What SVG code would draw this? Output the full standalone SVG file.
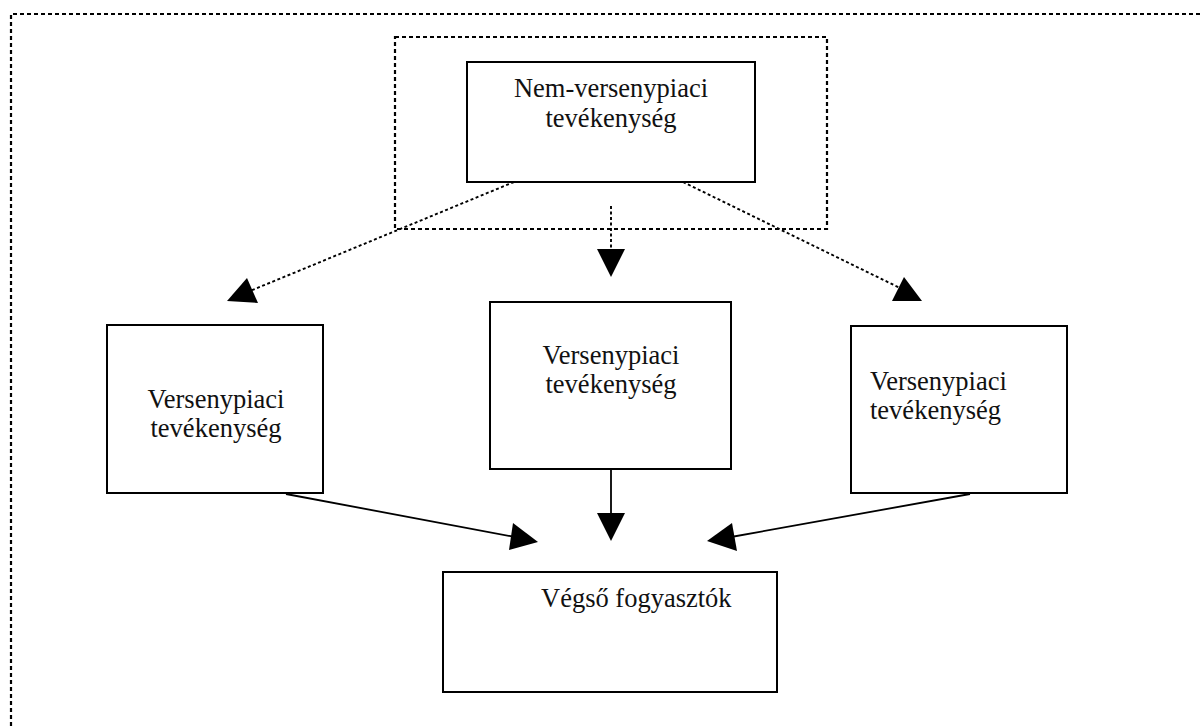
<svg xmlns="http://www.w3.org/2000/svg" width="1201" height="726" viewBox="0 0 1201 726">
  <style>
    .box { fill: #fff; stroke: #000; stroke-width: 2; }
    .frame { fill: none; stroke: #000; stroke-width: 2.2; stroke-dasharray: 4 3; }
    .dotted { fill: none; stroke: #000; stroke-width: 1.9; stroke-dasharray: 3 2.5; }
    .solid { fill: none; stroke: #000; stroke-width: 1.8; }
    .head { fill: #000; stroke: none; }
    .label { font-family: "Liberation Serif", "Times New Roman", serif; font-size: 26.5px; fill: #111; }
    .mid { text-anchor: middle; }
  </style>

  <rect width="1201" height="726" fill="#fff"/>

  <!-- outer page frame (continues past right and bottom edges) -->
  <path class="frame" d="M11,740 V14 H1215"/>

  <!-- dashed frame around the non-market activity -->
  <rect class="frame" x="395" y="37" width="432" height="192"/>

  <g id="connectors">
    <!-- dotted flows from the non-market activity -->
    <line class="dotted" x1="514" y1="182" x2="250" y2="291"/>
    <polygon class="head" points="227,301 247,278 258,303"/>
    <line class="dotted" x1="611" y1="206" x2="611" y2="250"/>
    <polygon class="head" points="597,249 625,249 611,277"/>
    <line class="dotted" x1="683" y1="182" x2="900" y2="288"/>
    <polygon class="head" points="904,277 892,301 922,301"/>

    <!-- solid flows to final consumers -->
    <line class="solid" x1="286" y1="494" x2="515" y2="537"/>
    <polygon class="head" points="538,542 513,523 509,550"/>
    <line class="solid" x1="611" y1="469" x2="611" y2="514"/>
    <polygon class="head" points="597,513 625,513 611,541"/>
    <line class="solid" x1="970" y1="494" x2="731" y2="537"/>
    <polygon class="head" points="707,541 732,523 737,551"/>
  </g>

  <g id="non-market">
    <rect class="box" x="467" y="62" width="288" height="120"/>
    <text class="label mid" x="611" y="97">Nem-versenypiaci</text>
    <text class="label mid" x="611" y="127">tevékenység</text>
  </g>

  <g id="market-left">
    <rect class="box" x="107" y="325" width="216" height="168"/>
    <text class="label mid" x="216" y="408">Versenypiaci</text>
    <text class="label mid" x="216" y="437">tevékenység</text>
  </g>

  <g id="market-center">
    <rect class="box" x="490" y="302" width="241" height="167"/>
    <text class="label mid" x="611" y="364">Versenypiaci</text>
    <text class="label mid" x="611" y="393">tevékenység</text>
  </g>

  <g id="market-right">
    <rect class="box" x="851" y="326" width="216" height="167"/>
    <text class="label" x="870" y="390">Versenypiaci</text>
    <text class="label" x="870" y="419">tevékenység</text>
  </g>

  <g id="final-consumers">
    <rect class="box" x="443" y="572" width="334" height="120"/>
    <text class="label" x="541" y="607">Végső fogyasztók</text>
  </g>
</svg>
